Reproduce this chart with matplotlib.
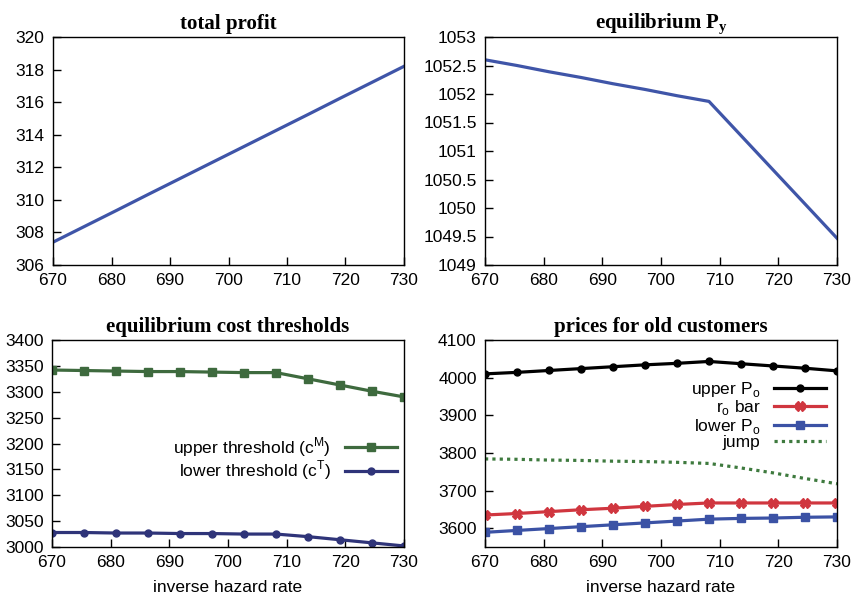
import numpy as np
import matplotlib
matplotlib.use("Agg")
import matplotlib.pyplot as plt
from matplotlib.ticker import FormatStrFormatter

plt.rcParams["font.family"] = "Liberation Sans"
plt.rcParams["mathtext.fontset"] = "custom"
plt.rcParams["mathtext.rm"] = "Liberation Sans"
plt.rcParams["mathtext.bf"] = "Liberation Serif:bold"

# inverse hazard rate grid
x = [670, 675.45, 680.91, 686.36, 691.82, 697.27, 702.73, 708.18, 713.64, 719.09, 724.55, 730]

profit = [307.4, 308.38, 309.36, 310.35, 311.33, 312.31, 313.29, 314.27, 315.25, 316.24, 317.22, 318.2]
p_y = [1052.60, 1052.50, 1052.39, 1052.29, 1052.18, 1052.08, 1051.97, 1051.87,
       1051.27, 1050.67, 1050.07, 1049.47]

upper_thr = [3342, 3341, 3340, 3339, 3339, 3338, 3337, 3337, 3325, 3313, 3301, 3290]
lower_thr = [3028, 3028, 3027, 3027, 3026, 3026, 3025, 3025, 3020, 3014, 3008, 3002]

upper_po = [4010, 4014, 4019, 4024, 4029, 4034, 4038, 4043, 4037, 4031, 4025, 4018]
ro_bar = [3635, 3639, 3644, 3649, 3653, 3658, 3663, 3667, 3667, 3667, 3667, 3667]
lower_po = [3589, 3594, 3599, 3604, 3609, 3614, 3619, 3624, 3626, 3627, 3629, 3630]
jump = [3784, 3783, 3781, 3780, 3778, 3777, 3775, 3772, 3760, 3747, 3732, 3718]

W, H = 855, 598
fig = plt.figure(figsize=(W / 100, H / 100), dpi=100)

def make_ax(l, t, r, b):
    return fig.add_axes([l / W, 1 - b / H, (r - l) / W, (b - t) / H])

ax1 = make_ax(53, 37, 404, 265)
ax2 = make_ax(485, 37, 837, 265)
ax3 = make_ax(52, 340, 404, 547)
ax4 = make_ax(485, 340, 837, 547)

title_kw = dict(fontsize=15, fontweight="bold", family="Liberation Serif", pad=6)
for ax in (ax1, ax2, ax3, ax4):
    ax.set_xlim(670, 730)
    ax.set_xticks([670, 680, 690, 700, 710, 720, 730])
    ax.tick_params(direction="in", length=6, width=1, labelsize=12.5, pad=6)
    for s in ax.spines.values():
        s.set_linewidth(1)

blue = "#3f55a8"
ax1.plot(x, profit, color=blue, lw=2.3)
ax1.set_ylim(306, 320)
ax1.set_yticks(np.arange(306, 321, 2))
ax1.set_title("total profit", **title_kw)

ax2.plot(x, p_y, color=blue, lw=2.3)
ax2.set_ylim(1049, 1053)
ax2.set_yticks(np.arange(1049, 1053.01, 0.5))
ax2.yaxis.set_major_formatter(FormatStrFormatter("%g"))
ax2.set_title(r"equilibrium P$_\mathbf{y}$", **title_kw)

ax3.plot(x, upper_thr, color="#3e6a3e", lw=2.3, marker="s", ms=5.5,
         label=r"upper threshold (c$^\mathrm{M}$)")
ax3.plot(x, lower_thr, color="#2f3479", lw=2.3, marker="o", ms=5,
         label=r"lower threshold (c$^\mathrm{T}$)")
ax3.set_ylim(3000, 3400)
ax3.set_yticks(np.arange(3000, 3401, 50))
ax3.set_title("equilibrium cost thresholds", **title_kw)
ax3.set_xlabel("inverse hazard rate", fontsize=12.5, labelpad=7)
ax3.legend(loc="upper right", bbox_to_anchor=(0.98, 0.54), frameon=False,
           markerfirst=False, fontsize=12.5, handlelength=3.0, labelspacing=0.0,
           handletextpad=0.8, borderpad=0, borderaxespad=0)

ax4.plot(x, upper_po, color="black", lw=2.3, marker="o", ms=5,
         label=r"upper P$_\mathrm{o}$")
ax4.plot(x, ro_bar, color="#d0363f", lw=2.3, marker="X", ms=6.5,
         label=r"r$_\mathrm{o}$ bar")
ax4.plot(x, lower_po, color="#3b52a5", lw=2.3, marker="s", ms=5.5,
         label=r"lower P$_\mathrm{o}$")
ax4.plot(x, jump, color="#3e7a3e", lw=2.3, ls=(0, (1, 1.3)), label="jump")
ax4.set_ylim(3550, 4100)
ax4.set_yticks(np.arange(3600, 4101, 100))
ax4.set_title("prices for old customers", **title_kw)
ax4.set_xlabel("inverse hazard rate", fontsize=12.5, labelpad=7)
ax4.legend(loc="upper right", bbox_to_anchor=(0.97, 0.805), frameon=False,
           markerfirst=False, fontsize=12.5, handlelength=3.0, labelspacing=-0.05,
           handletextpad=0.8, borderpad=0, borderaxespad=0)

fig.savefig("out.png", dpi=100)
